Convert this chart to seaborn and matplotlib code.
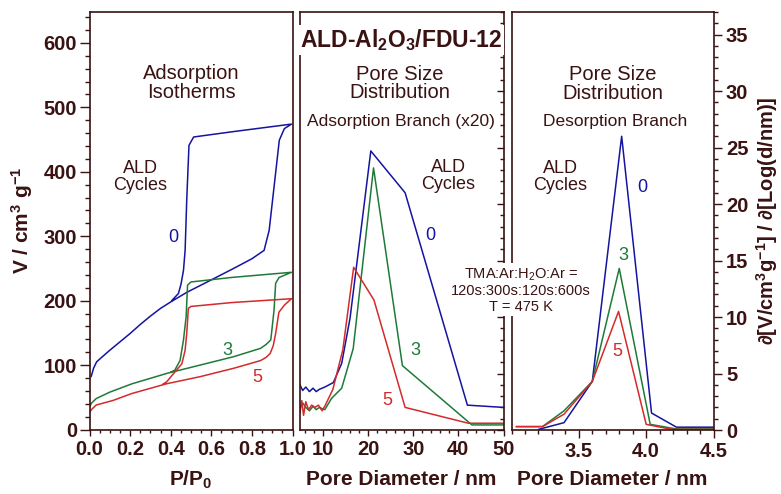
import numpy as np
import pandas as pd
import matplotlib
matplotlib.use("Agg")
import matplotlib.pyplot as plt
from matplotlib.ticker import MultipleLocator
import seaborn as sns

# ---------------- data ----------------
cycles = ["0", "3", "5"]

# adsorption isotherms (adsorption branch then desorption branch)
iso0_P = [0.008, 0.02, 0.035, 0.06, 0.10, 0.15, 0.20, 0.25, 0.30, 0.35, 0.40, 0.48, 0.58, 0.71, 0.80, 0.86,
          0.885, 0.935, 0.96, 0.995,
          0.70, 0.513, 0.49, 0.479, 0.471, 0.463, 0.451, 0.438, 0.405]
iso0_V = [82, 95, 105, 112, 123, 136, 149, 163, 176, 188, 198, 213, 229, 250, 265, 278,
          309, 449, 467, 474,
          462, 454, 441, 356, 278, 247, 226, 211, 200]

iso3_P = [0.0, 0.01, 0.033, 0.10, 0.21, 0.38, 0.545, 0.71, 0.843, 0.87, 0.893, 0.909, 0.917, 0.934, 0.995,
          0.70, 0.50, 0.483, 0.476, 0.463, 0.446, 0.42, 0.40]
iso3_V = [35, 41, 48, 58, 71, 87, 100, 113, 126, 132, 139, 185, 227, 236, 244,
          236, 229, 224, 175, 139, 107, 92, 89]

iso5_P = [0.0, 0.01, 0.033, 0.115, 0.21, 0.38, 0.545, 0.71, 0.843, 0.87, 0.89, 0.905, 0.917, 0.933, 0.96, 0.995,
          0.70, 0.50, 0.487, 0.479, 0.471, 0.455, 0.42, 0.38, 0.36]
iso5_V = [26, 31, 38, 45, 56, 71, 82, 95, 107, 112, 118, 130, 149, 182, 193, 203,
          197, 191, 188, 149, 123, 102, 89, 74, 70]

# pore size distribution, adsorption branch (x20)
psa0_d = [4.9, 5.5, 6.2, 7.0, 7.8, 8.5, 9.2, 10.4, 12.3, 14.15, 16.0, 20.6, 28.2, 42.0, 50.0]
psa0_y = [4.0, 3.5, 3.8, 3.4, 3.7, 3.4, 3.6, 3.8, 4.2, 5.9, 9.9, 24.7, 21.0, 2.2, 2.0]
psa3_d = [4.9, 5.5, 6.2, 7.0, 7.8, 8.5, 9.2, 10.4, 11.9, 14.15, 16.7, 21.2, 27.6, 43.0, 50.0]
psa3_y = [2.0, 2.4, 2.0, 1.7, 2.1, 1.8, 2.0, 1.8, 2.8, 3.7, 7.2, 23.2, 5.7, 0.45, 0.45]
psa5_d = [4.9, 5.3, 5.7, 6.2, 6.8, 7.5, 8.2, 9.0, 9.8, 10.4, 12.2, 14.4, 16.8, 21.3, 28.2, 42.2, 50.0]
psa5_y = [1.5, 2.6, 1.3, 2.5, 1.8, 2.2, 2.0, 2.2, 1.7, 2.1, 3.6, 7.1, 14.4, 11.5, 2.0, 0.6, 0.6]

# pore size distribution, desorption branch
psd0_d = [3.20, 3.39, 3.60, 3.818, 4.04, 4.225, 4.5]
psd0_y = [0.05, 0.65, 4.3, 26.0, 1.5, 0.25, 0.25]
psd3_d = [3.035, 3.23, 3.39, 3.60, 3.80, 4.03, 4.22, 4.5]
psd3_y = [0.3, 0.3, 1.7, 4.3, 14.3, 0.5, 0.1, 0.1]
psd5_d = [3.035, 3.23, 3.39, 3.60, 3.795, 4.00, 4.19, 4.5]
psd5_y = [0.3, 0.3, 1.4, 4.3, 10.5, 0.5, 0.05, 0.05]

# ticks
p_ticks = [0.0, 0.2, 0.4, 0.6, 0.8, 1.0]
p_labels = ["0.0", "0.2", "0.4", "0.6", "0.8", "1.0"]
v_ticks = [0, 100, 200, 300, 400, 500, 600]
v_labels = ["0", "100", "200", "300", "400", "500", "600"]
da_ticks = [10, 20, 30, 40, 50]
da_labels = ["10", "20", "30", "40", "50"]
dd_ticks = [3.5, 4.0, 4.5]
dd_labels = ["3.5", "4.0", "4.5"]
psd_ticks = [0, 5, 10, 15, 20, 25, 30, 35]
psd_labels = ["0", "5", "10", "15", "20", "25", "30", "35"]

# ---------------- style ----------------
sns.set_theme(style="ticks")
plt.rcParams['font.family'] = ['Liberation Sans', 'DejaVu Sans']
plt.rcParams['mathtext.default'] = 'regular'

DARK = '#3a1212'
BLUE = '#1414a0'
GREEN = '#1f7a3a'
RED = '#d42a2a'
pal = {"0": BLUE, "3": GREEN, "5": RED}

W, H = 781, 494
fig = plt.figure(figsize=(W / 100, H / 100), dpi=100)


def fx(px):
    return px / W


def fy(py):
    return 1 - py / H


ax1 = fig.add_axes([fx(89.5), fy(429.5), (292.5 - 89.5) / W, (429.5 - 12) / H])
ax2 = fig.add_axes([fx(299.5), fy(430), (503.5 - 299.5) / W, (430 - 12) / H])
ax3 = fig.add_axes([fx(511.5), fy(430), (713.5 - 511.5) / W, (430 - 12) / H])


def frame(xs, ys, name):
    return pd.DataFrame({"x": xs, "y": ys, "cycles": name})


iso = pd.concat([frame(iso0_P, iso0_V, "0"), frame(iso3_P, iso3_V, "3"), frame(iso5_P, iso5_V, "5")],
                ignore_index=True)
psa = pd.concat([frame(psa0_d, psa0_y, "0"), frame(psa3_d, psa3_y, "3"), frame(psa5_d, psa5_y, "5")],
                ignore_index=True)
psd = pd.concat([frame(psd0_d, psd0_y, "0"), frame(psd3_d, psd3_y, "3"), frame(psd5_d, psd5_y, "5")],
                ignore_index=True)

for ax, df in [(ax1, iso), (ax2, psa), (ax3, psd)]:
    sns.lineplot(data=df, x="x", y="y", hue="cycles", palette=pal, sort=False,
                 estimator=None, legend=False, linewidth=1.1, ax=ax)
    ax.set_xlabel("")
    ax.set_ylabel("")
    for s in ax.spines.values():
        s.set_visible(True)
        s.set_color(DARK)
        s.set_linewidth(1.2)

TICK = dict(fontsize=14.5, fontweight='bold', color=DARK)

# left panel
ax1.set_xlim(0, 1.0)
ax1.set_ylim(0, 648)
ax1.set_xticks(p_ticks, labels=p_labels, **TICK)
ax1.set_yticks(v_ticks, labels=v_labels, **TICK)
ax1.xaxis.set_minor_locator(MultipleLocator(0.05))
ax1.yaxis.set_minor_locator(MultipleLocator(20))
ax1.tick_params(axis='y', which='major', direction='out', length=7, width=1, color=DARK, pad=2)
ax1.tick_params(axis='y', which='minor', direction='out', length=3.5, width=1, color=DARK)
ax1.tick_params(axis='x', which='major', direction='out', length=4.5, width=1, color=DARK, pad=3)
ax1.tick_params(axis='x', which='minor', direction='out', length=2.5, width=1, color=DARK)
ax1.tick_params(top=False, right=False, which='both')
ax1.set_xlabel("P/P$_0$", fontsize=15, fontweight='bold', color=DARK)
ax1.xaxis.set_label_coords(0.5, -0.095)
ax1.set_ylabel("V / cm$^3$ g$^{-1}$", fontsize=15, fontweight='bold', color=DARK)
ax1.yaxis.set_label_coords(-0.27, 0.5)

# middle panel
ax2.set_xlim(4.8, 50)
ax2.set_ylim(0, 37)
ax2.set_xticks(da_ticks, labels=da_labels, **TICK)
ax2.xaxis.set_minor_locator(MultipleLocator(2))
ax2.tick_params(axis='x', which='major', direction='out', length=4, width=1, color=DARK, pad=3)
ax2.tick_params(axis='x', which='minor', direction='out', length=2.5, width=1, color=DARK)
ax2.yaxis.set_ticks_position('right')
ax2.set_yticks(psd_ticks)
ax2.yaxis.set_minor_locator(MultipleLocator(1))
ax2.tick_params(axis='y', which='major', direction='in', length=5, width=1, color=DARK,
                labelright=False, labelleft=False)
ax2.tick_params(axis='y', which='minor', direction='in', length=3, width=1, color=DARK)
ax2.set_xlabel("Pore Diameter / nm", fontsize=15, fontweight='bold', color=DARK)
ax2.xaxis.set_label_coords(0.5, -0.095)

# right panel
ax3.set_xlim(3.0, 4.5)
ax3.set_ylim(0, 37)
ax3.set_xticks(dd_ticks, labels=dd_labels, **TICK)
ax3.xaxis.set_minor_locator(MultipleLocator(0.1))
ax3.tick_params(axis='x', which='major', direction='out', length=5.5, width=1, color=DARK, pad=3)
ax3.tick_params(axis='x', which='minor', direction='out', length=3, width=1, color=DARK)
ax3.yaxis.tick_right()
ax3.set_yticks(psd_ticks, labels=psd_labels, **TICK)
ax3.yaxis.set_minor_locator(MultipleLocator(1))
ax3.tick_params(axis='y', which='major', direction='out', length=6, width=1, color=DARK, pad=3)
ax3.tick_params(axis='y', which='minor', direction='out', length=3, width=1, color=DARK)
ax3.tick_params(left=False, which='both')
ax3.set_xlabel("Pore Diameter / nm", fontsize=15, fontweight='bold', color=DARK)
ax3.xaxis.set_label_coords(0.5, -0.095)
ax3.yaxis.set_label_position('right')
ax3.set_ylabel("\u2202[V/cm$^3$g$^{-1}$] / \u2202[Log(d/nm)]", fontsize=14.5, fontweight='bold', color=DARK)
ax3.yaxis.set_label_coords(1.2, 0.5)


# ---------------- annotations ----------------
def txt(px, py, s, size=13, color=DARK, **kw):
    return fig.text(fx(px), fy(py), s, ha='center', va='center', fontsize=size, color=color,
                    linespacing=1.0, **kw)


txt(191, 83, "Adsorption\nIsotherms", size=14.5)
txt(140, 177, "ALD\nCycles", size=13)
txt(173, 237, "0", size=13, color=BLUE)
txt(227, 350, "3", size=13, color=GREEN)
txt(257, 377, "5", size=13, color=RED)

txt(400, 83.5, "Pore Size\nDistribution", size=14.5)
txt(401, 121, "Adsorption Branch (x20)", size=12.5)
txt(448, 176, "ALD\nCycles", size=13)
txt(430, 235, "0", size=13, color=BLUE)
txt(415, 350, "3", size=13, color=GREEN)
txt(387, 400, "5", size=13, color=RED)

txt(613, 84, "Pore Size\nDistribution", size=14.5)
txt(615, 121, "Desorption Branch", size=12.5)
txt(560, 177, "ALD\nCycles", size=13)
txt(642, 187, "0", size=13, color=BLUE)
txt(623, 255, "3", size=13, color=GREEN)
txt(617, 352, "5", size=13, color=RED)

fig.text(fx(521), fy(290), "TMA:Ar:H$_2$O:Ar =\n120s:300s:120s:600s\nT = 475 K",
         ha='center', va='center', fontsize=10.5, color=DARK, linespacing=1.15,
         bbox=dict(facecolor='white', edgecolor='none', pad=1.5))

fig.text(fx(401), fy(40), "ALD-Al$_2$O$_3$/FDU-12", ha='center', va='center', fontsize=16.5,
         fontweight='bold', color=DARK, bbox=dict(facecolor='white', edgecolor='none', pad=1.5))

fig.savefig("out.png", dpi=100, facecolor='white')
